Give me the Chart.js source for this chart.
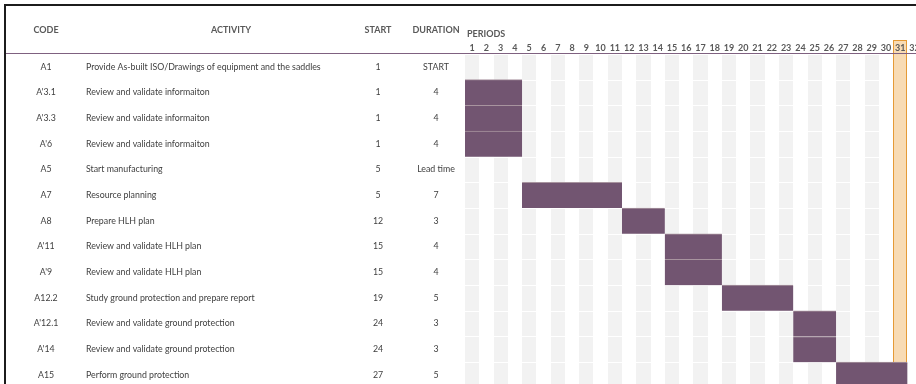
<!DOCTYPE html>
<html><head><meta charset="utf-8">
<script src="https://cdn.jsdelivr.net/npm/chart.js@4.4.1/dist/chart.umd.min.js"></script>
<style>html,body{margin:0;padding:0;background:#fff;overflow:hidden}#wrap{width:916px;height:384px;position:relative}</style>
</head><body><div id="wrap"><canvas id="c" width="916" height="384"></canvas></div>
<script>
const headers = ["CODE", "ACTIVITY", "START", "DURATION"];
const periodsTitle = "PERIODS";
const codes = ["A1", "A'3.1", "A'3.3", "A'6", "A5", "A7", "A8", "A'11", "A'9", "A12.2", "A'12.1", "A'14", "A15"];
const activities = [
  "Provide As-built ISO/Drawings of equipment and the saddles",
  "Review and validate informaiton",
  "Review and validate informaiton",
  "Review and validate informaiton",
  "Start manufacturing",
  "Resource planning",
  "Prepare HLH plan",
  "Review and validate HLH plan",
  "Review and validate HLH plan",
  "Study ground protection and prepare report",
  "Review and validate ground protection",
  "Review and validate ground protection",
  "Perform ground protection"
];
const starts = [1, 1, 1, 1, 5, 5, 12, 15, 15, 19, 24, 24, 27];
const durationLabels = ["START", "4", "4", "4", "Lead time", "7", "3", "4", "4", "5", "3", "3", "5"];
const periods = Array.from({length: 32}, (_, i) => i + 1);
const currentPeriod = 31;

const FONT = "Lato, 'Liberation Sans', sans-serif";
const barData = [];
codes.forEach((c, i) => {
  const d = parseFloat(durationLabels[i]);
  if (!isNaN(d)) barData.push({y: i, x: [starts[i] - 1, starts[i] - 1 + d]});
});

const tablePlugin = {
  id: 'table',
  beforeDraw(chart) {
    const ctx = chart.ctx, xs = chart.scales.x, ys = chart.scales.y, ca = chart.chartArea;
    ctx.save();
    // stripes
    ctx.fillStyle = '#f2f2f2';
    for (let i = 0; i < codes.length; i++) {
      const top = Math.round(ys.getPixelForValue(i - 0.5)) + 1;
      const bot = Math.round(ys.getPixelForValue(i + 0.5));
      periods.forEach(p => {
        if (p % 2 === 1 && p !== currentPeriod) {
          const l = Math.round(xs.getPixelForValue(p - 1));
          const r = Math.round(xs.getPixelForValue(p));
          ctx.fillRect(l, top, r - l, bot - top);
        }
      });
    }
    // current period highlight
    const cl = Math.round(xs.getPixelForValue(currentPeriod - 1));
    const cr = Math.round(xs.getPixelForValue(currentPeriod));
    ctx.fillStyle = '#f8dbb4';
    ctx.fillRect(cl, 40, cr - cl, ca.bottom - 40);
    ctx.fillStyle = '#e59a36';
    ctx.fillRect(cl, 40, 1, ca.bottom - 40);
    ctx.fillRect(cr - 1, 40, 1, ca.bottom - 40);
    ctx.fillRect(cl, 40, cr - cl, 1);
    // header separator
    ctx.fillStyle = '#7f6180';
    ctx.fillRect(6, Math.round(ca.top) - 1, 910, 1);
    // frame
    ctx.fillStyle = '#1c1c1c';
    ctx.fillRect(4, 4, 912, 2);
    ctx.fillRect(4, 4, 2, 380);
    // headers
    ctx.fillStyle = '#595959';
    ctx.font = "bold 9px " + FONT;
    ctx.textBaseline = 'middle';
    ctx.textAlign = 'center';
    const hx = [46, 231, 378, 436];
    headers.forEach((h, k) => ctx.fillText(h, hx[k], 30));
    ctx.textAlign = 'left';
    ctx.fillText(periodsTitle, 467, 34);
    // rows
    ctx.fillStyle = '#404040';
    ctx.font = "8.8px " + FONT;
    for (let i = 0; i < codes.length; i++) {
      const y = ys.getPixelForValue(i);
      ctx.textAlign = 'center';
      ctx.fillText(codes[i], 46, y);
      ctx.fillText(String(starts[i]), 378, y);
      ctx.fillText(durationLabels[i], 436, y);
      ctx.textAlign = 'left';
      ctx.fillText(activities[i], 86, y);
    }
    ctx.restore();
  }
};

new Chart(document.getElementById('c'), {
  type: 'bar',
  data: {
    datasets: [{
      data: barData,
      backgroundColor: '#725571',
      borderColor: '#a8949f',
      borderWidth: {top: 1, bottom: 0, left: 0, right: 0},
      borderSkipped: false,
      barPercentage: 1,
      categoryPercentage: 1
    }]
  },
  options: {
    indexAxis: 'y',
    responsive: false,
    animation: false,
    events: [],
    layout: {padding: {left: 465, right: 0, top: 0, bottom: 0}},
    plugins: {legend: {display: false}, tooltip: {enabled: false}},
    scales: {
      x: {
        type: 'linear', position: 'top', min: 0, max: 31.6,
        grid: {display: false, drawTicks: false},
        border: {display: false},
        afterBuildTicks: s => { s.ticks = periods.map(p => ({value: p - 0.5})); },
        afterFit: s => { s.height = 54; s.paddingLeft = 0; s.paddingRight = 0; },
        ticks: {
          autoSkip: false, maxRotation: 0, minRotation: 0, padding: 1,
          color: '#595959',
          font: {family: FONT, size: 9, weight: 'bold'},
          callback: v => String(Math.round(v + 0.5))
        }
      },
      y: {
        type: 'linear', display: false, offset: false, bounds: 'data', grace: 0,
        min: -0.5, max: 12.35, reverse: true,
        grid: {offset: false},
        afterDataLimits: s => { s.min = -0.5; s.max = 12.35; },
        afterBuildTicks: s => { s.ticks = codes.map((c, i) => ({value: i})); }
      }
    }
  },
  plugins: [tablePlugin]
});
</script>
</body></html>
